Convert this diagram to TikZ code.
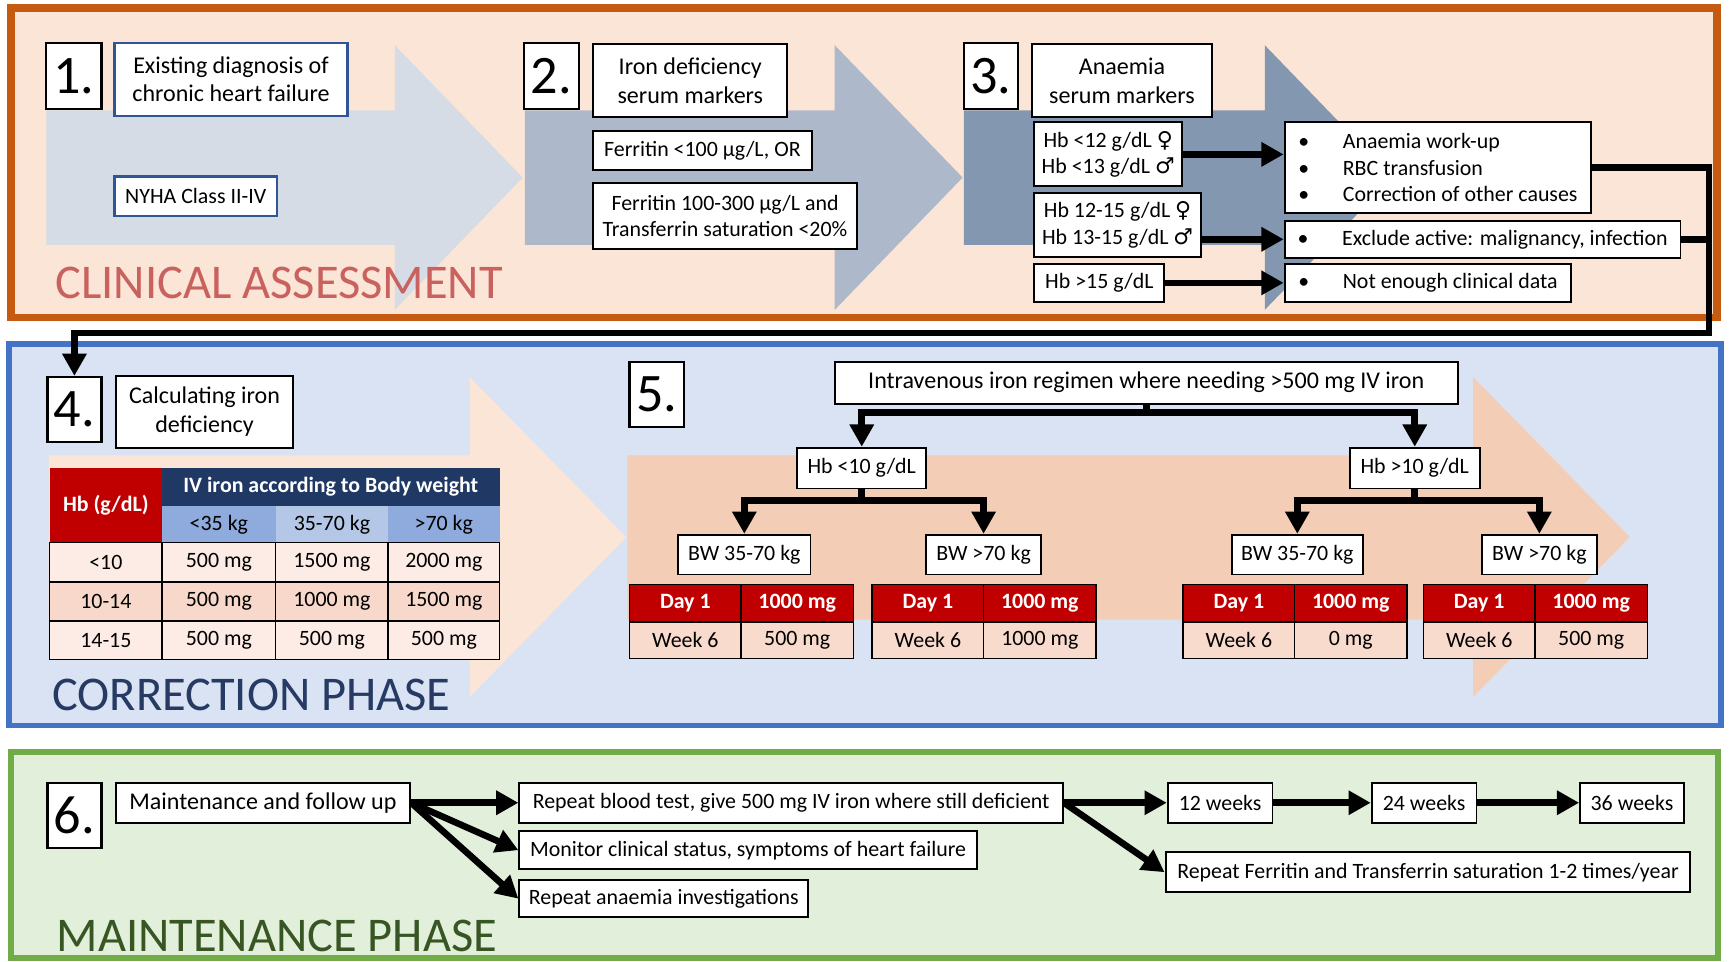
\documentclass[tikz,border=0pt]{standalone}
\usepackage{fontspec}
\setmainfont{Carlito}
\newfontfamily\symfont{DejaVu Sans}
\definecolor{cOrange}{HTML}{C55A11}
\definecolor{cOrangeBg}{HTML}{FBE5D6}
\definecolor{cBlue}{HTML}{4472C4}
\definecolor{cBlueBg}{HTML}{DAE3F3}
\definecolor{cGreen}{HTML}{70AD47}
\definecolor{cGreenBg}{HTML}{E2EFDA}
\definecolor{cArrA}{HTML}{D6DCE5}
\definecolor{cArrB}{HTML}{ADB9CA}
\definecolor{cArrC}{HTML}{8497B0}
\definecolor{cArrD}{HTML}{FBE5D6}
\definecolor{cArrE}{HTML}{F4CDB6}
\definecolor{cBoxBlue}{HTML}{2F5597}
\definecolor{cRed}{HTML}{C00000}
\definecolor{cNavy}{HTML}{1F3864}
\definecolor{cSky}{HTML}{8FAADC}
\definecolor{cSkyL}{HTML}{B4C7E7}
\definecolor{cRowA}{HTML}{FCECE5}
\definecolor{cRowB}{HTML}{F8D8CB}
\definecolor{cWeek}{HTML}{F9DBCE}
\definecolor{tClin}{HTML}{C9615E}
\definecolor{tCorr}{HTML}{263A64}
\definecolor{tMaint}{HTML}{375623}
\usepackage{tikz}
\usetikzlibrary{arrows.meta, positioning}

\newcommand{\bul}{\makebox[23pt][l]{\textbullet}}
\newcommand{\femsym}{{\symfont ♀}}
\newcommand{\malsym}{{\symfont ♂}}

% a node spanning the corners x1,y1,x2,y2 (units of the picture)
\tikzset{spot/.style args={#1,#2,#3,#4}{at={({((#1)+(#3))/2},{((#2)+(#4))/2})},
  minimum width={((#3)-(#1))*0.02cm}, minimum height={((#4)-(#2))*0.02cm}}}

\begin{document}
\begin{tikzpicture}[x=0.02cm, y=-0.02cm,
  box/.style={draw=black, fill=white, line width=1pt, inner sep=0pt, align=center,
    font=\fontsize{11.3}{13.6}\selectfont},
  headbox/.style={box, font=\fontsize{12.4}{14.8}\selectfont},
  numbox/.style={box, line width=1.2pt, font=\fontsize{28}{30}\selectfont},
  tcell/.style={draw=black, line width=0.8pt, inner sep=0pt, font=\fontsize{11.3}{13.6}\selectfont},
  hcell/.style={tcell, draw=none, text=white, font=\fontsize{11.3}{13.6}\selectfont\bfseries},
  flow/.style={line width=3.4pt, -{Triangle[length=11.5pt, width=12pt]}},
  flowline/.style={line width=3.4pt},
  phase/.style={anchor=base west, inner sep=0pt, font=\fontsize{25}{28}\selectfont}]
  \useasboundingbox (0,0) rectangle (1568,872);

  % phase frames
  \draw[line width=4pt, draw=cOrange, fill=cOrangeBg] (10,7) rectangle (1557,288);
  \draw[line width=3pt, draw=cBlue, fill=cBlueBg] (8,312) rectangle (1561,658);
  \draw[line width=3pt, draw=cGreen, fill=cGreenBg] (10,682) rectangle (1558,869);

  % big arrows behind the steps
  \foreach \xa/\xb/\col in {42/358/cArrA, 476/757/cArrB, 874/1147/cArrC}{
    \fill[\col] (\xa,100) -- (\xb,100) -- (\xb,41) -- (\xb+116,161) -- (\xb,281)
      -- (\xb,222) -- (\xa,222) -- cycle;}
  \foreach \xa/\xb/\col in {44/426/cArrD, 569/1336/cArrE}{
    \fill[\col] (\xa,413) -- (\xb,413) -- (\xb,342) -- (\xb+142,487) -- (\xb,632)
      -- (\xb,562) -- (\xa,562) -- cycle;}

  \node[phase, text=tClin] (ttlA) at (50,271) {CLINICAL ASSESSMENT};
  \node[phase, text=tCorr] (ttlB) at (47,644) {CORRECTION PHASE};
  \node[phase, text=tMaint] (ttlC) at (51,863) {MAINTENANCE PHASE};

  % steps 1-3
  \node[numbox, spot={42,39,92,99}] (n1) {1.};
  \node[headbox, draw=cBoxBlue, line width=1.3pt, spot={104,39,315,105}] (chf) {Existing diagnosis of\\chronic heart failure};
  \node[box, draw=cBoxBlue, line width=1.3pt, spot={104,160,251,196}] (nyha) {NYHA Class II-IV};
  \node[numbox, spot={475,39,525,99}] (n2) {2.};
  \node[headbox, spot={538,40,714,106}] (idm) {Iron deficiency\\serum markers};
  \node[box, spot={538,119,736,154}] (fer1) {Ferritin <100 µg/L, OR};
  \node[box, spot={538,166,777,226}] (fer2) {Ferritin 100-300 µg/L and\\Transferrin saturation <20\%};
  \node[numbox, spot={874,39,923,99}] (n3) {3.};
  \node[headbox, spot={936,40,1099,106}] (asm) {Anaemia\\serum markers};
  \node[box, spot={938,111,1072,169}] (hb1) {Hb <12 g/dL \femsym\\Hb <13 g/dL \malsym};
  \node[box, spot={938,175,1089,233}] (hb2) {Hb 12-15 g/dL \femsym\\Hb 13-15 g/dL \malsym};
  \node[box, spot={938,239,1056,274}] (hb3) {Hb >15 g/dL};
  \node[box, align=left, spot={1165,111,1443,193}] (res1) {\bul Anaemia work-up\\\bul RBC transfusion\\\bul Correction of other causes};
  \node[box, align=left, spot={1165,200,1524,234}] (res2) {\bul Exclude active: malignancy, infection};
  \node[box, align=left, spot={1165,239,1425,274}] (res3) {\bul Not enough clinical data};
  \draw[flow] (hb1.east) -- (hb1.east -| res1.west);
  \draw[flow] (res2.west -| hb2.east) -- (res2.west);
  \draw[flow] (hb3.east) -- (res3.west);

  % step 4 and the dose table
  \node[numbox, spot={43,342,92,401}] (n4) {4.};
  \node[headbox, spot={105,341,266,406}] (calc) {Calculating iron\\deficiency};
  \node[hcell, fill=cRed, spot={45,424,147,492}] (hbhead) {Hb (g/dL)};
  \node[hcell, fill=cNavy, spot={147,424,453,459}] (ivhead) {IV iron according to Body weight};
  \foreach \xa/\xb/\col/\t [count=\i] in {147/250/cSky/<35 kg, 250/352/cSkyL/35-70 kg, 352/453/cSky/>70 kg}{
    \node[tcell, draw=none, fill=\col, spot={\xa,459,\xb,492}] (kg\i) {\t};}
  \foreach \ya/\yb/\col/\hb/\va/\vb/\vc [count=\r] in {492/528/cRowA/<10/500/1500/2000,
      528/563/cRowB/10-14/500/1000/1500, 563/598/cRowA/14-15/500/500/500}{
    \node[tcell, fill=\col, spot={45,\ya,147,\yb}] (r\r c0) {\hb};
    \foreach \xa/\xb/\v [count=\c] in {147/250/\va, 250/352/\vb, 352/453/\vc}{
      \node[tcell, fill=\col, spot={\xa,\ya,\xb,\yb}] (r\r c\c) {\v{} mg};}}

  % step 5 regimen tree
  \node[numbox, spot={571,328,620,387}] (n5) {5.};
  \node[headbox, spot={757,328,1322,366}] (ivreg) {Intravenous iron regimen where needing >500 mg IV iron};
  \node[box, spot={723,406,840,443}] (hblo) {Hb <10 g/dL};
  \node[box, spot={1224,406,1342,443}] (hbhi) {Hb >10 g/dL};
  \node[box, spot={615,485,735,521}] (bwa) {BW 35-70 kg};
  \node[box, spot={840,485,944,521}] (bwb) {BW >70 kg};
  \node[box, spot={1117,485,1236,521}] (bwc) {BW 35-70 kg};
  \node[box, spot={1344,485,1448,521}] (bwd) {BW >70 kg};
  \path (ivreg.south) ++(0,7) coordinate (split5);
  \path (hblo.south) ++(0,10) coordinate (splitL);
  \path (hbhi.south) ++(0,10) coordinate (splitR);
  \draw[flowline] (ivreg.south) -- (split5);
  \draw[flow] (split5) -| (hblo.north);
  \draw[flow] (split5) -| (hbhi.north);
  \draw[flowline] (hblo.south) -- (splitL);
  \draw[flow] (splitL) -| (bwa.north);
  \draw[flow] (splitL) -| (bwb.north);
  \draw[flowline] (hbhi.south) -- (splitR);
  \draw[flow] (splitR) -| (bwc.north);
  \draw[flow] (splitR) -| (bwd.north);
  \foreach \tx/\val [count=\i] in {571/500 mg, 791/1000 mg, 1073/0 mg, 1291/500 mg}{
    \node[hcell, draw=black, fill=cRed, spot={\tx,530,\tx+101,564}] (day\i) {Day 1};
    \node[hcell, draw=black, fill=cRed, spot={\tx+101,530,\tx+203,564}] (dose\i) {1000 mg};
    \node[tcell, fill=cWeek, spot={\tx,564,\tx+101,597}] (week\i) {Week 6};
    \node[tcell, fill=cWeek, spot={\tx+101,564,\tx+203,597}] (wdose\i) {\val};}

  % back from step 3 to step 4
  \coordinate (loopR) at (1550,302);
  \draw[flowline] (res2.east) -- (res2.east -| loopR);
  \draw[flow] (res1.east) -| (loopR) -| (n4.north);

  % step 6 follow up
  \node[numbox, spot={43,710,92,769}] (n6) {6.};
  \node[headbox, spot={105,710,372,746}] (follow) {Maintenance and follow up};
  \node[box, spot={471,710,964,746}] (blood) {Repeat blood test, give 500 mg IV iron where still deficient};
  \node[box, spot={471,754,886,788}] (monit) {Monitor clinical status, symptoms of heart failure};
  \node[box, spot={471,798,733,832}] (anaem) {Repeat anaemia investigations};
  \node[box, spot={1059,710,1154,746}] (w12) {12 weeks};
  \node[box, spot={1244,710,1339,746}] (w24) {24 weeks};
  \node[box, spot={1433,710,1527,746}] (w36) {36 weeks};
  \node[box, spot={1057,773,1533,809}] (ferrep) {Repeat Ferritin and Transferrin saturation 1-2 times/year};
  \draw[flow] (follow.east) -- (blood.west);
  \draw[flow] (follow.east) -- (monit.west);
  \draw[flow] (follow.east) -- (anaem.west);
  \draw[flow] (blood.east) -- (w12.west);
  \draw[flow] (blood.east) -- (ferrep.west);
  \draw[flow] (w12.east) -- (w24.west);
  \draw[flow] (w24.east) -- (w36.west);
\end{tikzpicture}
\end{document}
